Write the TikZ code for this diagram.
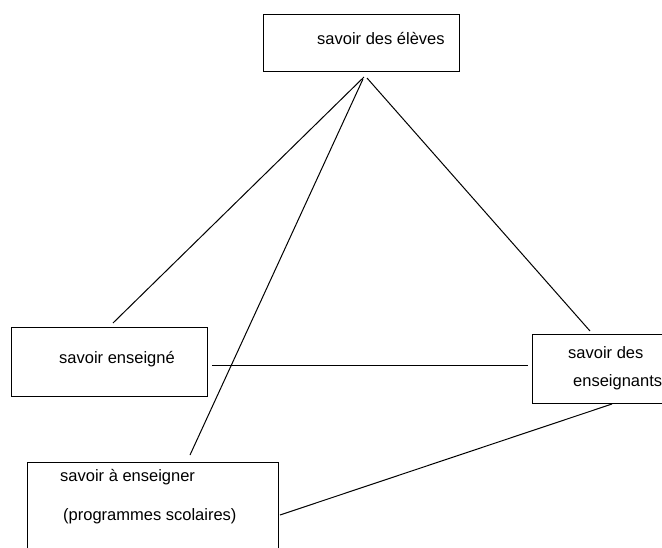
\documentclass[tikz,border=0pt]{standalone}
\usepackage{fontspec}
\setmainfont{Liberation Sans}
\begin{document}
\begin{tikzpicture}[x=1pt,y=-1pt,
  frame/.style={draw=black,line width=1pt,inner sep=0pt,anchor=north west},
  label/.style={anchor=base west,inner sep=0pt,font=\fontsize{16.5}{19}\selectfont},
  link/.style={draw=black,line width=1pt}]
\useasboundingbox (0,0) rectangle (662,547);
\clip (0,0) rectangle (662,547);
\fill[white] (0,0) rectangle (662,547);

% boxes
\node[frame,minimum width=196pt,minimum height=57pt] (eleves) at (263,14) {};
\node[frame,minimum width=196pt,minimum height=69pt] (enseigne) at (11,327) {};
\node[frame,minimum width=140pt,minimum height=69pt] (enseignants) at (532,334) {};
\node[frame,minimum width=251pt,minimum height=100pt] (aenseigner) at (27,462) {};

% texts
\node[label] (t1) at (317,44) {savoir des élèves};
\node[label] (t2) at (59,363) {savoir enseigné};
\node[label] (t3a) at (568,358) {savoir des};
\node[label] (t3b) at (573,386) {enseignants};
\node[label] (t4a) at (60,481) {savoir à enseigner};
\node[label] (t4b) at (63,520) {(programmes scolaires)};

% connector end points
\coordinate (apexL) at (364,77);
\coordinate (apexM) at (363,79);
\coordinate (apexR) at (367,78);
\coordinate (enseigneTop) at (113,323);
\coordinate (aenseignerTop) at (190,455);
\coordinate (enseignantsTop) at (590,331);
\coordinate (enseigneRight) at (212,365.5);
\coordinate (enseignantsLeft) at (528,365.5);
\coordinate (enseignantsBot) at (612,404);
\coordinate (aenseignerRight) at (280,515);

% connectors
\draw[link] (apexL) -- (enseigneTop);
\draw[link] (apexM) -- (aenseignerTop);
\draw[link] (apexR) -- (enseignantsTop);
\draw[link] (enseigneRight) -- (enseignantsLeft);
\draw[link] (enseignantsBot) -- (aenseignerRight);
\end{tikzpicture}
\end{document}
